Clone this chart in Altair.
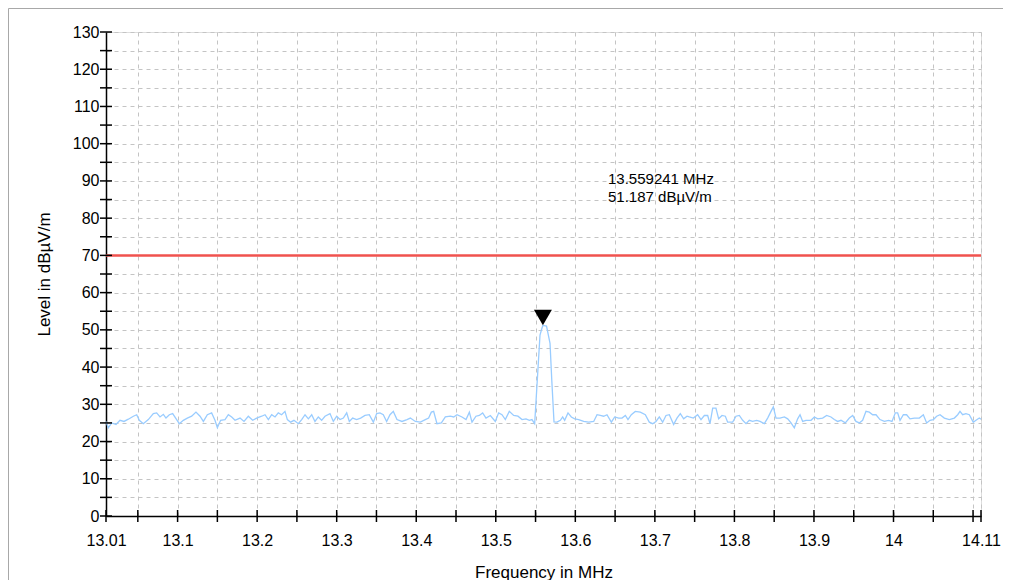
import altair as alt
import pandas as pd

# ---------------- data ----------------
freq_mhz = [
    13.0100, 13.0129, 13.0171, 13.0226, 13.0276, 13.0326, 13.0381, 13.0444, 13.0486, 13.0519,
    13.0569, 13.0632, 13.0695, 13.0737, 13.0779, 13.0821, 13.0854, 13.0896, 13.0938, 13.0988,
    13.1022, 13.1072, 13.1122, 13.1177, 13.1231, 13.1282, 13.1324, 13.1374, 13.1428, 13.1470,
    13.1500, 13.1541, 13.1596, 13.1638, 13.1680, 13.1722, 13.1785, 13.1835, 13.1889, 13.1944,
    13.1994, 13.2057, 13.2099, 13.2141, 13.2183, 13.2225, 13.2266, 13.2308, 13.2350, 13.2380,
    13.2421, 13.2463, 13.2518, 13.2560, 13.2602, 13.2644, 13.2686, 13.2727, 13.2769, 13.2811,
    13.2853, 13.2916, 13.2958, 13.3000, 13.3042, 13.3084, 13.3126, 13.3159, 13.3201, 13.3251,
    13.3301, 13.3356, 13.3410, 13.3461, 13.3503, 13.3544, 13.3586, 13.3628, 13.3670, 13.3712,
    13.3758, 13.3821, 13.3884, 13.3926, 13.3989, 13.4052, 13.4114, 13.4156, 13.4190, 13.4219,
    13.4261, 13.4316, 13.4366, 13.4429, 13.4471, 13.4513, 13.4575, 13.4626, 13.4668, 13.4701,
    13.4751, 13.4793, 13.4835, 13.4877, 13.4932, 13.4994, 13.5036, 13.5078, 13.5120, 13.5170,
    13.5225, 13.5279, 13.5330, 13.5380, 13.5422, 13.5455, 13.5489,
    13.5556, 13.5581, 13.559241, 13.5638, 13.5682, 13.5704, 13.5732,
    13.5770, 13.5812, 13.5841, 13.5866, 13.5908, 13.5950, 13.5992, 13.6042, 13.6105, 13.6168,
    13.6231, 13.6273, 13.6314, 13.6356, 13.6398, 13.6453, 13.6495, 13.6545, 13.6587, 13.6629,
    13.6662, 13.6704, 13.6754, 13.6817, 13.6880, 13.6930, 13.6972, 13.7014, 13.7056, 13.7098,
    13.7140, 13.7182, 13.7236, 13.7278, 13.7320, 13.7362, 13.7404,
    13.7433, 13.7484, 13.7538, 13.7580, 13.7622, 13.7664, 13.7693, 13.7727, 13.7768, 13.7802,
    13.7844, 13.7886, 13.7915, 13.7978, 13.8020, 13.8062, 13.8104, 13.8146, 13.8187, 13.8229,
    13.8280, 13.8322, 13.8376, 13.8418, 13.8460, 13.8489, 13.8523, 13.8573, 13.8628, 13.8670,
    13.8712, 13.8753, 13.8795, 13.8825, 13.8858, 13.8900, 13.8963, 13.9005, 13.9047, 13.9109,
    13.9160, 13.9214, 13.9256, 13.9298, 13.9340, 13.9394, 13.9445, 13.9487, 13.9528, 13.9570,
    13.9612, 13.9654, 13.9696, 13.9738, 13.9780, 13.9830, 13.9885, 13.9939, 13.9981, 14.0023,
    14.0052, 14.0082, 14.0124, 14.0165, 14.0207, 14.0262, 14.0325, 14.0375, 14.0417, 14.0459,
    14.0501, 14.0543, 14.0585, 14.0639, 14.0702, 14.0765, 14.0807, 14.0836, 14.0869, 14.0911,
    14.0953, 14.1003, 14.1037, 14.1079, 14.1100,
]
level_dbuv = [
    25.4, 23.7, 25.0, 24.6, 25.7, 25.4, 26.0, 26.8, 27.2, 25.7,
    24.8, 25.9, 27.5, 27.7, 26.6, 27.3, 26.3, 27.2, 27.5, 25.9,
    24.8, 25.7, 26.3, 26.8, 27.9, 26.8, 25.4, 27.2, 27.7, 25.7,
    23.7, 25.7, 25.9, 27.2, 26.6, 25.7, 26.3, 25.4, 26.8, 25.7,
    26.3, 26.8, 27.2, 25.9, 27.2, 26.6, 27.7, 27.2, 28.1, 25.9,
    25.2, 25.7, 24.8, 25.9, 27.2, 26.1, 27.2, 25.4, 26.6, 25.7,
    26.8, 27.5, 25.4, 26.8, 25.9, 26.3, 27.7, 25.4, 26.3, 25.9,
    26.3, 27.0, 27.2, 25.2, 27.5, 27.7, 27.2, 25.4, 27.2, 28.1,
    25.9, 25.4, 25.9, 26.3, 25.4, 25.2, 25.9, 26.3, 27.9, 28.1,
    24.8, 25.0, 26.6, 26.8, 26.6, 27.2, 26.6, 25.9, 27.9, 25.2,
    26.8, 27.0, 27.7, 26.3, 27.0, 25.4, 27.7, 27.2, 25.9, 28.1,
    27.0, 26.8, 25.9, 26.1, 25.7, 25.9, 24.8,
    48.6, 50.5, 51.187, 51.0, 46.4, 36.5, 25.3,
    25.2, 25.7, 26.6, 25.7, 27.7, 26.6, 26.1, 25.9, 25.4, 25.2,
    25.4, 27.2, 27.0, 26.8, 27.2, 25.2, 26.6, 26.3, 26.3, 27.0,
    25.9, 27.2, 28.1, 27.9, 27.2, 25.2, 24.8, 25.4, 26.6, 25.2,
    27.0, 27.2, 24.6, 26.3, 27.5, 26.1, 26.8,
    26.6, 26.3, 27.2, 25.9, 27.0, 27.0, 24.8, 29.0, 29.0, 26.1,
    27.0, 26.8, 25.2, 25.2, 26.8, 27.0, 25.7, 24.8, 25.7, 25.4,
    25.7, 25.4, 24.8, 26.3, 28.1, 29.3, 26.3, 26.3, 26.6, 26.1,
    25.0, 23.7, 26.1, 27.2, 25.4, 25.7, 25.7, 26.6, 26.1, 26.3,
    27.0, 26.6, 25.9, 25.4, 25.7, 25.0, 26.3, 27.0, 25.4, 25.0,
    25.7, 28.1, 27.9, 27.2, 27.2, 25.9, 25.4, 25.7, 25.4, 27.7,
    27.7, 25.7, 27.2, 27.2, 26.1, 26.3, 26.3, 27.2, 25.0, 25.7,
    25.9, 26.8, 27.2, 26.3, 25.9, 26.3, 27.2, 28.1, 27.2, 27.5,
    27.2, 25.2, 25.7, 26.3, 26.0,
]

limit_level = [70]
marker_freq = [13.559241]
marker_level = [51.187]
annotation_pos = [13.6411, 90.5]  # data coordinates of the marker read-out

x_tick_values = [13.01, 13.05, 13.1, 13.15, 13.2, 13.25, 13.3, 13.35, 13.4, 13.45, 13.5,
                 13.55, 13.6, 13.65, 13.7, 13.75, 13.8, 13.85, 13.9, 13.95, 14.0, 14.05,
                 14.1, 14.11]
x_tick_labels = ["13.01", "13.1", "13.2", "13.3", "13.4", "13.5", "13.6", "13.7",
                 "13.8", "13.9", "14", "14.11"]
y_tick_values = list(range(0, 131, 5))

# ---------------- chart ----------------
W, H = 875, 484
FONT = "Liberation Sans"

xs = alt.Scale(domain=[13.01, 14.11], nice=False, zero=False)
ys = alt.Scale(domain=[0, 130], nice=False, zero=False)

label_list = "[" + ",".join("'" + s + "'" for s in x_tick_labels) + "]"

x_axis = alt.Axis(
    values=x_tick_values, format=".2~f",
    labelExpr="indexof(" + label_list + ", datum.label) >= 0 ? datum.label : ''",
    labelFlush=False, labelOverlap=False, ticks=False, tickSize=0,
    labelPadding=16, labelFontSize=16, labelColor="#000000", labelFont=FONT,
    domainColor="#000000", domainWidth=1.5,
    grid=True, gridColor="#c4c4c4", gridDash=[4, 4], gridWidth=1,
    title="Frequency in MHz", titleFont=FONT, titleFontSize=17,
    titleFontWeight="normal", titleColor="#000000", titlePadding=16,
)
y_axis = alt.Axis(
    values=y_tick_values,
    labelExpr="datum.value % 10 == 0 ? datum.label : ''",
    labelFlush=False, labelOverlap=False, ticks=False, tickSize=0,
    labelPadding=7, labelFontSize=16, labelColor="#000000", labelFont=FONT,
    domainColor="#000000", domainWidth=1.5,
    grid=True, gridColor="#c4c4c4", gridDash=[4, 4], gridWidth=1,
    title="Level in dBµV/m", titleFont=FONT, titleFontSize=17,
    titleFontWeight="normal", titleColor="#000000", titlePadding=19,
)

trace_df = pd.DataFrame({"freq": freq_mhz, "level": level_dbuv})
limit_df = pd.DataFrame({"level": limit_level})
yt_df = pd.DataFrame({"level": y_tick_values})
xt_df = pd.DataFrame({"freq": x_tick_values})
marker_df = pd.DataFrame({"freq": marker_freq, "level": marker_level})
ann_text = f"{marker_freq[0]:.6f} MHz\n{marker_level[0]:.3f} dBµV/m"
ann_df = pd.DataFrame({"freq": [annotation_pos[0]], "level": [annotation_pos[1]], "t": [ann_text]})

X = alt.X("freq:Q", scale=xs, axis=x_axis)
Y = alt.Y("level:Q", scale=ys, axis=y_axis)

trace = alt.Chart(trace_df).mark_line(color="#99ccff", strokeWidth=1.3).encode(
    x=X, y=Y, order=alt.Order("freq:Q"),
)

limit = alt.Chart(limit_df).mark_rule(color="#f0524e", strokeWidth=2.5).encode(y=Y)

y_ticks = alt.Chart(yt_df).mark_rule(color="#000000", strokeWidth=1.5).encode(
    y=Y, x=alt.value(-6), x2=alt.value(6),
)
x_ticks = alt.Chart(xt_df).mark_rule(color="#000000", strokeWidth=1.5).encode(
    x=X, y=alt.value(H - 6), y2=alt.value(H + 6),
)

marker = alt.Chart(marker_df).mark_point(
    shape="triangle-down", filled=True, color="#000000", opacity=1, size=324, yOffset=-8
).encode(x=X, y=Y)

annotation = alt.Chart(ann_df).mark_text(
    align="left", baseline="middle", font=FONT, fontSize=15, lineHeight=18,
    lineBreak="\n", color="#000000"
).encode(x=X, y=Y, text="t:N")

frame = alt.Chart(pd.DataFrame({"a": [0]})).mark_rect(
    fillOpacity=0, stroke="#a8a8a8", strokeWidth=1
).encode(
    x=alt.value(-97.5), x2=alt.value(W + 300),
    y=alt.value(-23.5), y2=alt.value(H + 300),
)

chart = alt.layer(
    trace, limit, y_ticks, x_ticks, marker, annotation, frame
).properties(
    width=W, height=H,
    padding={"left": 98, "top": 24, "right": 22, "bottom": 64},
    autosize=alt.AutoSizeParams(type="none"),
).configure_view(strokeWidth=0).configure(font=FONT)

chart.save("out.html", embed_options={"renderer": "svg", "actions": False})
